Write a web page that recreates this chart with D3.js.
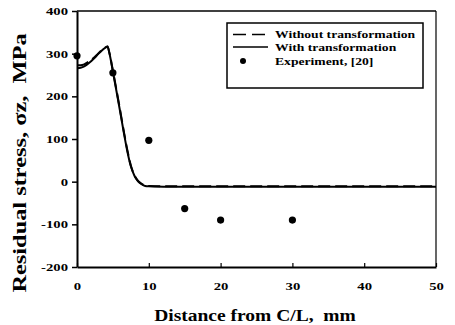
<!DOCTYPE html>
<html>
<head>
<meta charset="utf-8">
<script src="https://cdn.jsdelivr.net/npm/d3@7/dist/d3.min.js"></script>
<style>
  html, body { margin: 0; padding: 0; background: #fff; }
  svg { display: block; }
  text { font-family: "Liberation Serif", "Times New Roman", serif; font-weight: bold; fill: #000; white-space: pre; }
</style>
</head>
<body>
<svg id="chart" width="455" height="325"></svg>
<script>
// Residual stress profile across the weld centre line
const distance = [0, 0.5, 1, 1.5, 2, 2.5, 3, 3.5, 4, 4.25, 4.5, 5, 5.5, 6, 6.5, 7, 7.5, 8, 8.5, 9, 9.5, 10, 12, 20, 30, 40, 50];
const withoutTransformation = [273, 273, 275, 280, 286, 293, 301, 309, 315, 317, 303, 260, 215, 168, 120, 75, 38, 15, 2, -5, -9, -10, -11, -11, -11, -11, -11];
const withTransformation = [266, 267, 270, 276, 283, 291, 300, 308, 315, 317, 302, 258, 212, 165, 117, 72, 36, 14, 1, -6, -10, -11, -12, -12, -12, -12, -12];
const expDistance = [0, 5, 10, 15, 20, 30];
const expStress = [295, 255, 97, -63, -90, -90];
const xTicks = [0, 10, 20, 30, 40, 50];
const yTicks = [-200, -100, 0, 100, 200, 300, 400];
const legendLabels = ["Without transformation", "With transformation", "Experiment, [20]"];

const svg = d3.select("#chart");
const x = d3.scaleLinear().domain([0, 50]).range([77, 436]);
const y = d3.scaleLinear().domain([-200, 400]).range([267, 11]);
const sx = 1.4; // horizontal stretch of the bold face used for labels
const plain = d => String(d); // hyphen-minus, as printed

// frame (top and right edges)
svg.append("line").attr("x1", x(0)).attr("x2", x(50)).attr("y1", y(400)).attr("y2", y(400))
  .attr("stroke", "#000").attr("stroke-width", 1.5);
svg.append("line").attr("x1", x(50)).attr("x2", x(50)).attr("y1", y(400)).attr("y2", y(-200))
  .attr("stroke", "#000").attr("stroke-width", 1.2);

// y axis
const yAxis = svg.append("g").attr("transform", `translate(${x(0)},0)`)
  .call(d3.axisLeft(y).tickValues(yTicks).tickFormat(plain).tickSize(5).tickSizeOuter(0).tickPadding(4));
yAxis.select(".domain").attr("stroke-width", 2);
yAxis.selectAll(".tick line").attr("stroke-width", 1.5);
yAxis.selectAll(".tick text")
  .attr("font-size", 10.5).attr("x", -9 / sx)
  .attr("transform", `scale(${sx},1)`);

// x axis, ticks pointing into the plot
const xAxis = svg.append("g").attr("transform", `translate(0,${y(-200)})`)
  .call(d3.axisBottom(x).tickValues(xTicks).tickFormat(plain).tickSize(-4).tickSizeOuter(0).tickPadding(0));
xAxis.select(".domain").attr("stroke-width", 2);
xAxis.selectAll(".tick line").attr("stroke-width", 1.2);
xAxis.selectAll(".tick text")
  .attr("font-size", 10.5).attr("y", 0).attr("dy", 0)
  .attr("transform", `translate(0,23) scale(${sx},1)`);

// model curves
const line = vals => d3.line()
  .x((d, i) => x(distance[i]))
  .y(d => y(d))
  .curve(d3.curveMonotoneX)(vals);

svg.append("path").attr("d", line(withTransformation))
  .attr("fill", "none").attr("stroke", "#000").attr("stroke-width", 2);
svg.append("path").attr("d", line(withoutTransformation))
  .attr("fill", "none").attr("stroke", "#000").attr("stroke-width", 2)
  .attr("stroke-dasharray", "12,5");

// experimental points
svg.append("g").selectAll("circle").data(expStress).join("circle")
  .attr("cx", (d, i) => x(expDistance[i]))
  .attr("cy", d => y(d))
  .attr("r", 3.6)
  .attr("fill", "#000");

// legend
const lg = svg.append("g");
lg.append("rect").attr("x", 227).attr("y", 23).attr("width", 196).attr("height", 65)
  .attr("fill", "#fff").attr("stroke", "#000").attr("stroke-width", 1.5);
const rowY = [34.5, 47, 61];
lg.append("line").attr("x1", 233).attr("x2", 268).attr("y1", rowY[0]).attr("y2", rowY[0])
  .attr("stroke", "#000").attr("stroke-width", 1.6).attr("stroke-dasharray", "13,6");
lg.append("line").attr("x1", 233).attr("x2", 268).attr("y1", rowY[1]).attr("y2", rowY[1])
  .attr("stroke", "#000").attr("stroke-width", 1.6);
lg.append("circle").attr("cx", 243).attr("cy", rowY[2]).attr("r", 3).attr("fill", "#000");
legendLabels.forEach((t, i) => {
  lg.append("text")
    .attr("transform", `translate(275,${rowY[i] + 3.5}) scale(1.3,1)`)
    .attr("font-size", 10.5)
    .text(t);
});

// axis titles
svg.append("text")
  .attr("transform", `translate(255,321) scale(1.22,1)`)
  .attr("text-anchor", "middle")
  .attr("font-size", 16)
  .text("Distance from C/L,  mm");

const yt = svg.append("text")
  .attr("transform", `translate(26,163) rotate(-90) scale(1.25,1)`)
  .attr("text-anchor", "middle")
  .attr("font-size", 19.5);
yt.append("tspan").text("Residual stress, ");
yt.append("tspan").text("σ");
yt.append("tspan").text("z,  MPa");
</script>
</body>
</html>
